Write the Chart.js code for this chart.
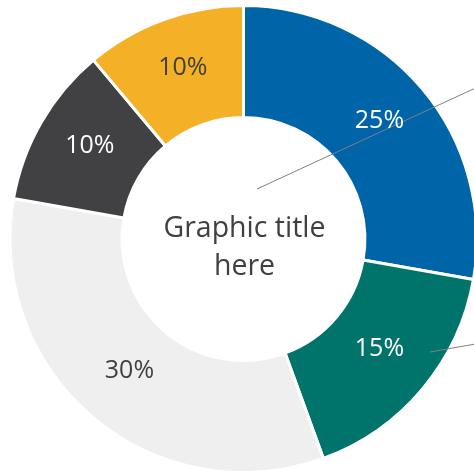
<!DOCTYPE html>
<html>
<head>
<meta charset="utf-8">
<script src="https://cdn.jsdelivr.net/npm/chart.js@4/dist/chart.umd.min.js"></script>
<style>
  html, body { margin: 0; padding: 0; background: #fff; overflow: hidden; }
  #grafico { position: absolute; left: 0; top: 0; }
</style>
</head>
<body>
<canvas id="grafico" width="487" height="478"></canvas>
<script>
// Dados do gráfico
const categorias = ['A', 'B', 'C', 'D', 'E'];
const valores = [25, 15, 30, 10, 10];
const rotulos = ['25%', '15%', '30%', '10%', '10%'];
const titulo = ['Graphic title', 'here'];

// Cores de cada fatia e do texto dentro delas
const cores = ['#0064a8', '#00746b', '#efefef', '#414042', '#f4b128'];
const coresTexto = ['#ffffff', '#ffffff', '#404040', '#ffffff', '#404040'];

// Plugin para desenhar os rótulos, o título central e as linhas
const pluginTextos = {
    id: 'textos',
    afterDatasetsDraw(chart) {
        const ctx = chart.ctx;
        const arcos = chart.getDatasetMeta(0).data;
        const cx = arcos[0].x;
        const cy = arcos[0].y;

        // linhas de chamada (decorativas)
        ctx.save();
        ctx.strokeStyle = '#808080';
        ctx.lineWidth = 1;
        ctx.beginPath();
        ctx.moveTo(cx + 13.5, cy - 50);
        ctx.lineTo(cx + 232, cy - 151);
        ctx.moveTo(cx + 186.5, cy + 113);
        ctx.lineTo(cx + 232, cy + 105);
        ctx.stroke();
        ctx.restore();

        // rótulos de porcentagem
        ctx.save();
        ctx.font = '400 25px "Open Sans"';
        ctx.textAlign = 'center';
        ctx.textBaseline = 'middle';
        arcos.forEach(function (arco, i) {
            const p = arco.getProps(['startAngle', 'endAngle', 'innerRadius', 'outerRadius']);
            const ang = (p.startAngle + p.endAngle) / 2;
            const r = (p.innerRadius + p.outerRadius) / 2;
            ctx.fillStyle = coresTexto[i];
            ctx.fillText(rotulos[i], cx + Math.cos(ang) * r, cy + Math.sin(ang) * r - 4);
        });
        ctx.restore();

        // título no centro
        ctx.save();
        ctx.font = '400 28.5px "Open Sans"';
        ctx.fillStyle = '#404040';
        ctx.textAlign = 'center';
        ctx.textBaseline = 'alphabetic';
        ctx.fillText(titulo[0], cx + 1, cy - 2);
        ctx.fillText(titulo[1], cx + 1, cy + 36);
        ctx.restore();
    }
};

const config = {
    type: 'doughnut',
    data: {
        labels: categorias,
        datasets: [{
            data: valores,
            backgroundColor: cores,
            borderColor: '#ffffff',
            borderWidth: 3
        }]
    },
    options: {
        responsive: false,
        animation: false,
        radius: 233.5,
        cutout: '52%',
        layout: { padding: 0 },
        plugins: {
            legend: { display: false },
            tooltip: { enabled: false }
        }
    },
    plugins: [pluginTextos]
};

new Chart(document.getElementById('grafico'), config);
</script>
</body>
</html>
